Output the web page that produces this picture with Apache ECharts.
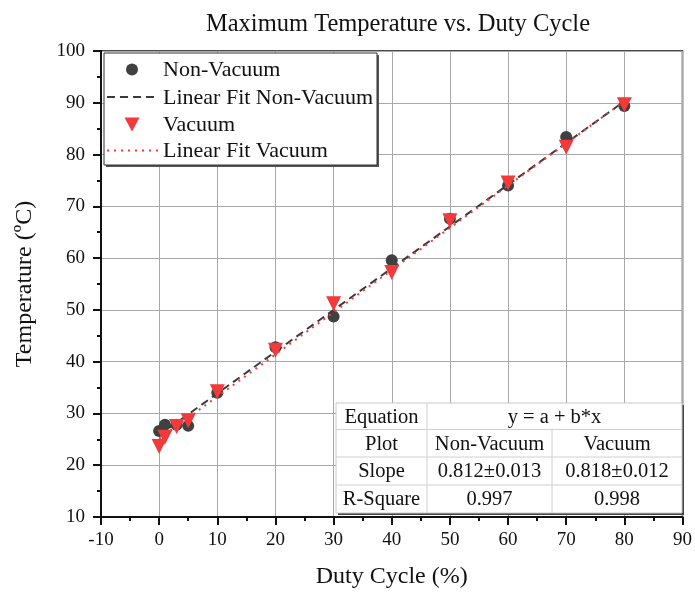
<!DOCTYPE html>
<html>
<head>
<meta charset="utf-8">
<script src="https://cdn.jsdelivr.net/npm/echarts@6/dist/echarts.min.js"></script>
<style>
html,body{margin:0;padding:0;background:#fff;}
#chart{width:695px;height:594px;}
</style>
</head>
<body>
<div id="chart"></div>
<script>
// ---- data ----
const dutyCycle = [0, 1, 3, 5, 10, 20, 30, 40, 50, 60, 70, 80];
const tempNonVacuum = [26.6, 27.8, 27.8, 27.6, 34.0, 42.8, 48.7, 59.6, 67.6, 74.0, 83.4, 89.4];
const tempVacuum = [23.6, 25.4, 27.5, 28.6, 34.2, 42.2, 51.2, 57.2, 67.2, 74.5, 81.4, 89.6];
const fitX = [0, 80];
const fitNonVacuum = [25.8, 90.3];
const fitVacuum = [25.1, 90.3];
const seriesNames = ['Non-Vacuum', 'Linear Fit Non-Vacuum', 'Vacuum', 'Linear Fit Vacuum'];
const tableRows = [
  ['Equation', 'y = a + b*x'],
  ['Plot', 'Non-Vacuum', 'Vacuum'],
  ['Slope', '0.812\u00B10.013', '0.818\u00B10.012'],
  ['R-Square', '0.997', '0.998']
];
const titleText = 'Maximum Temperature vs. Duty Cycle';
const xName = 'Duty Cycle (%)';
const yName = 'Temperature (\u00BAC)';

// ---- build ----
const pair = (xs, ys) => xs.map((x, i) => [x, ys[i]]);
const FONT = '"Liberation Serif", "Times New Roman", serif';
const RED = '#F23A3A';
const DARK = '#404040';
const ZG = 100;

// table graphic
const colX = [336, 427, 552, 682];
const rowY = [403, 429.5, 457, 485, 513];
const tbl = [];
tbl.push({type:'rect', z:ZG, shape:{x:colX[0]+2, y:rowY[0]+2, width:colX[3]-colX[0], height:rowY[4]-rowY[0]}, style:{fill:'#444'}});
tbl.push({type:'rect', z:ZG, shape:{x:colX[0], y:rowY[0], width:colX[3]-colX[0], height:rowY[4]-rowY[0]}, style:{fill:'#fff', stroke:'#c8c8c8', lineWidth:1}});
for (let r = 1; r < 4; r++) {
  tbl.push({type:'line', z:ZG+1, shape:{x1:colX[0], y1:rowY[r], x2:colX[3], y2:rowY[r]}, style:{stroke:'#d0d0d0', lineWidth:1}});
}
tbl.push({type:'line', z:ZG+1, shape:{x1:colX[1], y1:rowY[0], x2:colX[1], y2:rowY[4]}, style:{stroke:'#d0d0d0', lineWidth:1}});
tbl.push({type:'line', z:ZG+1, shape:{x1:colX[2], y1:rowY[1], x2:colX[2], y2:rowY[4]}, style:{stroke:'#d0d0d0', lineWidth:1}});
const tText = (x, y, t) => ({type:'text', z:ZG+2, x:x, y:y, style:{text:t, font:'20.5px '+FONT, fill:'#111', align:'center', verticalAlign:'middle'}});
tableRows.forEach((row, r) => {
  const cy = (rowY[r] + rowY[r+1]) / 2 + 1;
  if (row.length === 2) {
    tbl.push(tText((colX[0]+colX[1])/2, cy, row[0]));
    tbl.push(tText((colX[1]+colX[3])/2, cy, row[1]));
  } else {
    row.forEach((t, c) => tbl.push(tText((colX[c]+colX[c+1])/2, cy, t)));
  }
});

// legend graphic
const lg = [];
const lgBox = {x:104, y:53, w:273, h:112};
lg.push({type:'rect', z:ZG, shape:{x:lgBox.x+2, y:lgBox.y+2, width:lgBox.w, height:lgBox.h}, style:{fill:'#555'}});
lg.push({type:'rect', z:ZG, shape:{x:lgBox.x, y:lgBox.y, width:lgBox.w, height:lgBox.h}, style:{fill:'#fff', stroke:'#333', lineWidth:1}});
const rowsY = [69.5, 97, 124, 150.5];
const symL = 107, symR = 158, symC = 132, txtX = 163;
lg.push({type:'circle', z:ZG+1, shape:{cx:symC, cy:rowsY[0], r:6}, style:{fill:DARK}});
lg.push({type:'line', z:ZG+1, shape:{x1:symL, y1:rowsY[1], x2:symR, y2:rowsY[1]}, style:{stroke:'#3a3a3a', lineWidth:2, lineDash:[8,5]}});
lg.push({type:'polygon', z:ZG+1, shape:{points:[[symC-7.5, rowsY[2]-6.5], [symC+7.5, rowsY[2]-6.5], [symC, rowsY[2]+7.5]]}, style:{fill:RED}});
lg.push({type:'line', z:ZG+1, shape:{x1:symL, y1:rowsY[3], x2:symR, y2:rowsY[3]}, style:{stroke:RED, lineWidth:2, lineDash:[2,5]}});
seriesNames.forEach((n, i) => {
  lg.push({type:'text', z:ZG+2, x:txtX, y:rowsY[i] + 1, style:{text:n, font:'22px '+FONT, fill:'#111', align:'left', verticalAlign:'middle'}});
});

const chart = echarts.init(document.getElementById('chart'), null, {renderer:'canvas'});
const option = {
  backgroundColor: '#fff',
  animation: false,
  textStyle: {fontFamily: FONT},
  title: {
    text: titleText, left: 393, top: 7, textAlign: 'center',
    textStyle: {fontFamily: FONT, fontSize: 24.5, fontWeight: 'normal', color: '#111'}
  },
  grid: {left: 101, right: 11, top: 51, bottom: 75, show: true, borderColor: '#111', borderWidth: 1.5, containLabel: false},
  legend: {show: false},
  xAxis: {
    type: 'value', min: -10, max: 90, interval: 10,
    name: xName, nameLocation: 'middle', nameGap: 48,
    nameTextStyle: {fontFamily: FONT, fontSize: 24, color: '#111'},
    axisLine: {show: true, onZero: false, lineStyle: {color: '#111', width: 2}},
    axisTick: {show: true, inside: false, length: 8, lineStyle: {color: '#111', width: 2}},
    minorTick: {show: true, splitNumber: 2, length: 4, lineStyle: {color: '#111', width: 2}},
    axisLabel: {fontFamily: FONT, fontSize: 19, color: '#111', margin: 14},
    splitLine: {show: true, lineStyle: {color: '#a8a8a8', width: 1}}
  },
  yAxis: {
    type: 'value', min: 10, max: 100, interval: 10,
    name: yName, nameLocation: 'middle', nameGap: 64, nameRotate: 90,
    nameTextStyle: {fontFamily: FONT, fontSize: 24, color: '#111'},
    axisLine: {show: true, onZero: false, lineStyle: {color: '#111', width: 2}},
    axisTick: {show: true, inside: false, length: 8, lineStyle: {color: '#111', width: 2}},
    minorTick: {show: true, splitNumber: 2, length: 4, lineStyle: {color: '#111', width: 2}},
    axisLabel: {fontFamily: FONT, fontSize: 19, color: '#111', margin: 16},
    splitLine: {show: true, lineStyle: {color: '#a8a8a8', width: 1}}
  },
  series: [
    {
      name: seriesNames[0], type: 'scatter', data: pair(dutyCycle, tempNonVacuum),
      symbol: 'circle', symbolSize: 12, itemStyle: {color: DARK, opacity: 1}, z: 3
    },
    {
      name: seriesNames[1], type: 'line', data: pair(fitX, fitNonVacuum),
      symbol: 'none', showSymbol: false,
      lineStyle: {color: '#3a3a3a', width: 2, type: [8, 5]}, itemStyle: {color: '#3a3a3a'}, z: 4
    },
    {
      name: seriesNames[2], type: 'scatter', data: pair(dutyCycle, tempVacuum),
      symbol: 'triangle', symbolRotate: 180, symbolSize: 15, itemStyle: {color: RED, opacity: 1}, z: 5
    },
    {
      name: seriesNames[3], type: 'line', data: pair(fitX, fitVacuum),
      symbol: 'none', showSymbol: false,
      lineStyle: {color: RED, width: 2, type: [2, 5]}, itemStyle: {color: RED}, z: 6
    }
  ],
  graphic: [
    {type: 'group', z: ZG, children: tbl},
    {type: 'group', z: ZG, children: lg}
  ]
};
chart.setOption(option);
</script>
</body>
</html>
